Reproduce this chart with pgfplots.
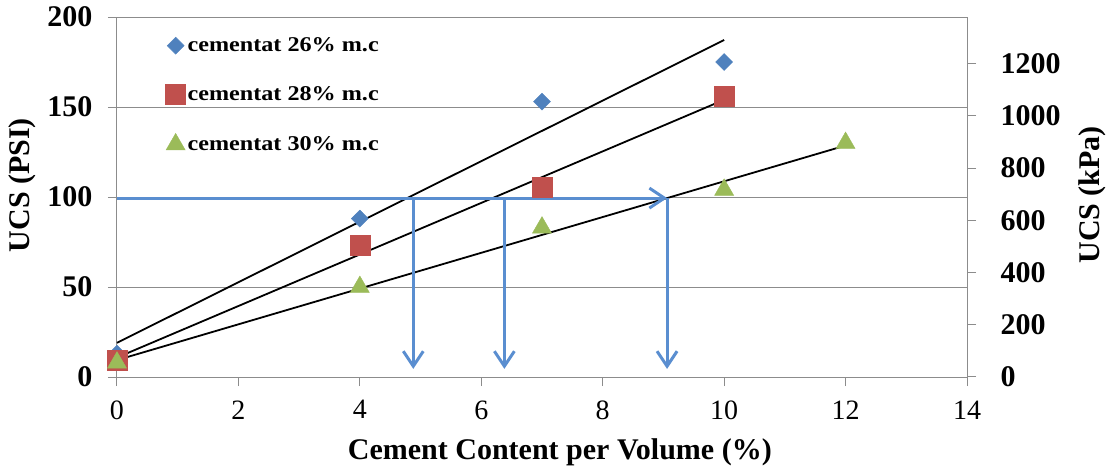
\documentclass[border=0pt]{standalone}
\usepackage{fontspec}
\setmainfont{Liberation Serif}
\usepackage{pgfplots}
\pgfplotsset{compat=1.18}
\usetikzlibrary{arrows.meta}
\definecolor{xblue}{HTML}{4F81BD}
\definecolor{xred}{HTML}{C0504D}
\definecolor{xgreen}{HTML}{9BBB59}
\definecolor{xarrow}{HTML}{5A8ED0}
\definecolor{xgray}{HTML}{8C8C8C}
\tikzset{myarrow/.style={xarrow, line width=3pt, -{Straight Barb[length=15pt,width=20pt,line width=3pt]}}}
\newcommand{\legtext}[1]{\scalebox{1.15}[1]{#1}}
\begin{document}
\begin{tikzpicture}
\useasboundingbox (-117pt,-97pt) rectangle (995pt,377pt);
\begin{axis}[
  scale only axis, width=850pt, height=360pt,
  xmin=0, xmax=14, ymin=0, ymax=200,
  xtick={0,2,...,14}, ytick={0,50,...,200},
  axis y line*=left, axis x line*=bottom,
  axis line style={xgray, line width=1pt, -},
  tick style={xgray, line width=1pt},
  tick align=outside, major tick length=9pt,
  ymajorgrids, grid style={xgray, line width=1pt},
  /pgf/number format/assume math mode=true,
  /pgf/number format/1000 sep={},
  x tick label style={font=\fontsize{28}{32}\selectfont, yshift=-11pt},
  y tick label style={font=\fontsize{30}{34}\selectfont\bfseries, xshift=-12pt},
  xlabel={Cement Content per Volume (\%)},
  ylabel={UCS (PSI)},
  xlabel style={font=\fontsize{30}{34}\selectfont\bfseries, at={(axis description cs:0.521,-0.208)}, anchor=center},
  ylabel style={font=\fontsize{30}{34}\selectfont\bfseries, at={(axis description cs:-0.111,0.533)}, anchor=center},
  legend style={at={(axis description cs:0.057,0.948)}, anchor=north west, draw=none, fill=none,
    font=\fontsize{21}{23}\selectfont\bfseries, row sep=29pt, inner sep=0pt},
  legend cell align=left,
  clip=false,
]
\addplot[only marks, mark=diamond*, mark size=8.5pt, xblue, mark options={fill=xblue, draw=xblue, xscale=1.33}]
  coordinates {(0,13) (4,88) (7,153) (10,175)};
\addlegendentry{\legtext{cementat 26\% m.c}}
\addplot[only marks, mark=square*, mark size=10pt, xred, mark options={fill=xred, draw=xred}]
  coordinates {(0,9.5) (4,73) (7,105.5) (10,156)};
\addlegendentry{\legtext{cementat 28\% m.c}}
\addplot[only marks, mark=triangle*, mark size=11pt, xgreen, mark options={fill=xgreen, draw=xgreen}]
  coordinates {(0,8) (4,50) (7,83) (10,104) (12,130)};
\addlegendentry{\legtext{cementat 30\% m.c}}
\addplot[black, line width=1.8pt, forget plot] coordinates {(0,19) (10,187.2)};
\addplot[black, line width=1.8pt, forget plot] coordinates {(0,10.8) (10,154)};
\addplot[black, line width=1.8pt, forget plot] coordinates {(0,9.4) (12,128.6)};
\addplot[myarrow, forget plot] coordinates {(0,99.4) (9.06,99.4)};
\addplot[myarrow, forget plot] coordinates {(4.88,99.4) (4.88,4.5)};
\addplot[myarrow, forget plot] coordinates {(6.38,99.4) (6.38,4.5)};
\addplot[myarrow, forget plot] coordinates {(9.06,99.4) (9.06,4.5)};
\end{axis}
\begin{axis}[
  scale only axis, width=850pt, height=360pt,
  xmin=0, xmax=14, ymin=0, ymax=1378.95,
  ytick={0,200,...,1200},
  axis y line*=right, axis x line=none,
  axis line style={xgray, line width=1pt, -},
  tick style={xgray, line width=1pt},
  tick align=outside, major tick length=9pt,
  /pgf/number format/assume math mode=true,
  /pgf/number format/1000 sep={},
  y tick label style={font=\fontsize{30}{34}\selectfont\bfseries, xshift=21pt},
  ylabel={UCS (kPa)},
  ylabel style={font=\fontsize{30}{34}\selectfont\bfseries, at={(axis description cs:1.147,0.506)}, anchor=center},
]
\addplot[draw=none, forget plot] coordinates {(0,0)};
\end{axis}
\end{tikzpicture}
\end{document}
